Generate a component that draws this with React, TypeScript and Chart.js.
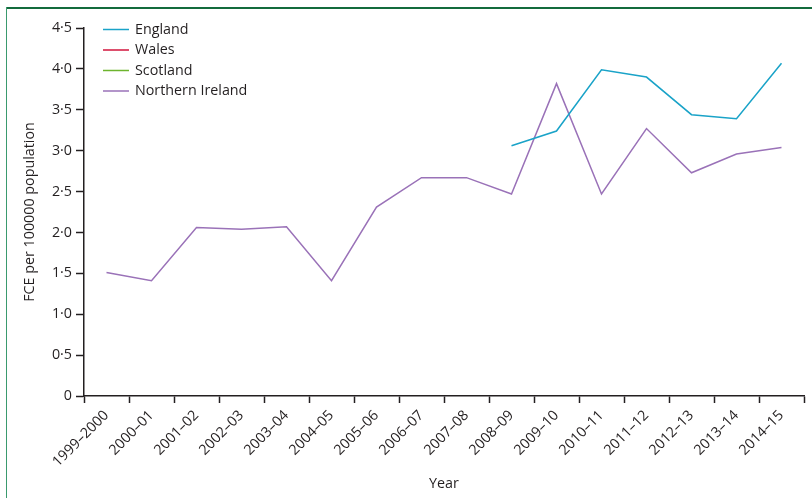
import React, { useEffect, useRef } from "react";
import { Chart, registerables } from "chart.js";

Chart.register(...registerables);

const categories = [
  "1999–2000", "2000–01", "2001–02", "2002–03", "2003–04", "2004–05",
  "2005–06", "2006–07", "2007–08", "2008–09", "2009–10", "2010–11",
  "2011–12", "2012–13", "2013–14", "2014–15",
];

const england = [
  null, null, null, null, null, null, null, null, null,
  3.06, 3.24, 3.99, 3.9, 3.44, 3.39, 4.07,
];
const wales = categories.map(() => null);
const scotland = categories.map(() => null);
const northernIreland = [
  1.51, 1.41, 2.06, 2.04, 2.07, 1.41, 2.31, 2.67, 2.67,
  2.47, 3.82, 2.47, 3.27, 2.73, 2.96, 3.04,
];

const yTicks = [0, 0.5, 1, 1.5, 2, 2.5, 3, 3.5, 4, 4.5];

const FONT = "'Open Sans', sans-serif";
const FS = 14.3;
const INK = "#231f20";

const legendPlugin = {
  id: "insideLegend",
  afterDraw(chart: any) {
    const ctx = chart.ctx;
    ctx.save();
    ctx.font = `${FS}px ${FONT}`;
    ctx.textBaseline = "middle";
    ctx.textAlign = "left";
    chart.data.datasets.forEach((ds: any, i: number) => {
      const y = 29.5 + i * 20.5;
      ctx.strokeStyle = ds.borderColor;
      ctx.lineWidth = 1.5;
      ctx.beginPath();
      ctx.moveTo(103, y);
      ctx.lineTo(129, y);
      ctx.stroke();
      ctx.fillStyle = INK;
      ctx.fillText(ds.label, 135, y);
    });
    ctx.restore();
  },
};

export default function App() {
  const ref = useRef<HTMLCanvasElement | null>(null);

  useEffect(() => {
    if (!ref.current) return;
    const mk = (label: string, data: any[], color: string) => ({
      label,
      data,
      borderColor: color,
      backgroundColor: color,
      borderWidth: 1.5,
      pointRadius: 0,
      tension: 0,
      spanGaps: false,
    });
    const chart = new Chart(ref.current, {
      type: "line",
      data: {
        labels: categories,
        datasets: [
          mk("England", england, "#1aa3c8"),
          mk("Wales", wales, "#d2143c"),
          mk("Scotland", scotland, "#6db42e"),
          mk("Northern Ireland", northernIreland, "#9a72b8"),
        ],
      },
      options: {
        animation: false,
        responsive: false,
        maintainAspectRatio: false,
        layout: { padding: { top: 28, right: 8, left: 0, bottom: 0 } },
        plugins: {
          legend: { display: false },
          tooltip: { enabled: false },
        },
        scales: {
          x: {
            type: "category",
            offset: true,
            afterFit: (s: any) => { s.height = 102; },
            grid: {
              offset: true,
              drawOnChartArea: false,
              drawTicks: true,
              tickLength: 7,
              tickWidth: 1.5,
              tickColor: INK,
            },
            border: { color: INK, width: 1.5 },
            ticks: {
              autoSkip: false,
              maxRotation: 45,
              minRotation: 45,
              padding: 4,
              color: INK,
              font: { family: FONT, size: FS },
            },
            title: {
              display: true,
              text: "Year",
              color: INK,
              font: { family: FONT, size: FS },
              padding: { top: 0, bottom: 5 },
            },
          },
          y: {
            min: 0,
            max: 4.5,
            afterFit: (s: any) => { s.width = 84; },
            afterBuildTicks: (s: any) => {
              s.ticks = yTicks.map((v) => ({ value: v }));
            },
            grid: {
              drawOnChartArea: false,
              drawTicks: true,
              tickLength: 8,
              tickWidth: 1.5,
              tickColor: INK,
            },
            border: { color: INK, width: 1.5 },
            ticks: {
              padding: 4,
              color: INK,
              font: { family: FONT, size: FS },
              callback: (v: any) => (Number(v) === 0 ? "0" : Number(v).toFixed(1).replace(".", "·")),
            },
            title: {
              display: true,
              text: "FCE per 100000 population",
              color: INK,
              font: { family: FONT, size: FS },
              padding: { top: 21, bottom: 0 },
            },
          },
        },
      },
      plugins: [legendPlugin],
    });
    return () => chart.destroy();
  }, []);

  return (
    <div style={{ position: "fixed", left: 0, top: 0, width: 812, height: 498, background: "#fff", overflow: "hidden" }}>
      <canvas ref={ref} width={812} height={498} style={{ position: "absolute", left: 0, top: 0, width: 812, height: 498 }} />
      <div style={{ position: "absolute", left: 6, top: 7, width: 820, height: 1.5, background: "#136b3c" }} />
      <div style={{ position: "absolute", left: 5.5, top: 7, width: 1.5, height: 500, background: "#3a9a6e" }} />
    </div>
  );
}
